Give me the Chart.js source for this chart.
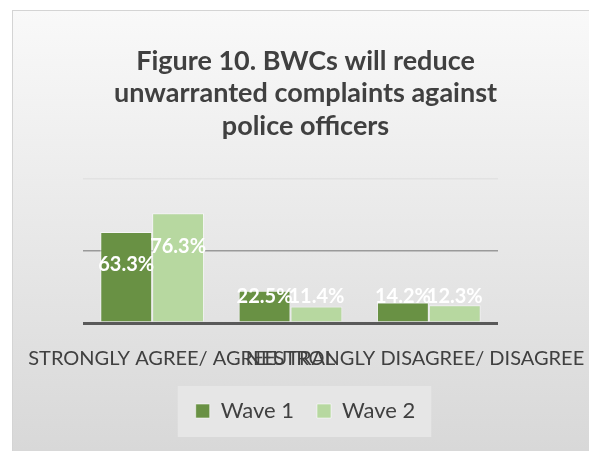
<!DOCTYPE html>
<html>
<head>
<meta charset="utf-8">
<script src="https://cdn.jsdelivr.net/npm/chart.js@4.4.1/dist/chart.umd.min.js"></script>
<style>
  html, body { margin: 0; padding: 0; background: #ffffff; }
  canvas { display: block; }
</style>
</head>
<body>
<canvas id="bwcChart" width="589" height="451"></canvas>
<script>
(function () {

// -------------------------------------------------------------------------------------------------------

var categories = ['STRONGLY AGREE/ AGREE', 'NEUTRAL', 'STRONGLY DISAGREE/ DISAGREE'];
var wave1 = [63.3, 22.5, 14.2];
var wave2 = [76.3, 11.4, 12.3];
var seriesNames = ['Wave 1', 'Wave 2'];
var titleLines = ['Figure 10. BWCs will reduce', 'unwarranted complaints against', 'police officers'];

var DARK_GREEN = '#699144';
var LIGHT_GREEN = '#b7d8a0';
var TEXT_GRAY = '#404040';

// panel background with a soft vertical gradient + the box behind the legend
var panelPlugin = {
    id: 'panel',
    beforeDraw: function (chart) {
        var ctx = chart.ctx;
        ctx.save();
        ctx.fillStyle = '#ffffff';
        ctx.fillRect(0, 0, chart.width, chart.height);
        var g = ctx.createLinearGradient(0, 10, 0, chart.height);
        g.addColorStop(0, '#f9f9f9');
        g.addColorStop(1, '#d8d8d8');
        ctx.fillStyle = g;
        ctx.fillRect(12, 10, chart.width - 12, chart.height - 10);
        ctx.strokeStyle = '#d4d4d4';
        ctx.lineWidth = 1;
        ctx.strokeRect(12.5, 10.5, chart.width, chart.height);

        var boxes = chart.legend && chart.legend.legendHitBoxes;
        if (boxes && boxes.length) {
            var l = Infinity, r = -Infinity;
            boxes.forEach(function (b) { l = Math.min(l, b.left); r = Math.max(r, b.left + b.width); });
            var cy = boxes[0].top + boxes[0].height / 2;
            ctx.fillStyle = 'rgba(232,232,232,0.85)';
            ctx.fillRect(l - 18, cy - 25, (r - l) + 34, 51);
        }
        ctx.restore();
    }
};

// white value labels near the top of each bar, kept above the baseline
var valueLabels = {
    id: 'valueLabels',
    afterDatasetsDraw: function (chart) {
        var ctx = chart.ctx;
        var base = chart.scales.y.getPixelForValue(0);
        ctx.save();
        ctx.font = 'bold 20px Lato';
        ctx.fillStyle = '#ffffff';
        ctx.textAlign = 'center';
        ctx.textBaseline = 'middle';
        chart.data.datasets.forEach(function (ds, i) {
            chart.getDatasetMeta(i).data.forEach(function (bar, j) {
                var y = Math.min(bar.y + 33, base - 26);
                ctx.fillText(ds.data[j].toFixed(1) + '%', bar.x, y);
            });
        });
        ctx.restore();
    }
};

var canvas = document.getElementById('bwcChart');
var ctx = canvas.getContext('2d');

new Chart(ctx, {
    type: 'bar',
    data: {
        labels: categories,
        datasets: [
            { label: seriesNames[0], data: wave1, backgroundColor: DARK_GREEN, borderColor: 'rgba(255,255,255,0.55)', borderWidth: 1 },
            { label: seriesNames[1], data: wave2, backgroundColor: LIGHT_GREEN, borderColor: 'rgba(255,255,255,0.55)', borderWidth: 1 }
        ]
    },
    options: {
        responsive: false,
        animation: false,
        layout: { padding: { left: 22, right: 0, top: 0, bottom: 19 } },
        datasets: { bar: { categoryPercentage: 0.75, barPercentage: 1.0 } },
        scales: {
            x: {
                grid: { display: false },
                border: { display: false },
                ticks: {
                    autoSkip: false,
                    maxRotation: 0,
                    minRotation: 0,
                    padding: 16,
                    color: TEXT_GRAY,
                    font: { family: 'Lato', size: 20 }
                },
                // long labels are allowed to overlap and run past the plot edges
                afterFit: function (scale) {
                    scale.paddingLeft = 0;
                    scale.paddingRight = 91;
                    scale.height = 54;
                }
            },
            y: {
                min: 0,
                max: 100,
                border: { display: false },
                ticks: { display: false, stepSize: 50 },
                grid: {
                    drawTicks: false,
                    color: function (c) {
                        if (c.tick.value === 0) return '#595959';
                        if (c.tick.value === 50) return '#9a9a9a';
                        return '#e2e2e2';
                    },
                    lineWidth: function (c) {
                        return c.tick.value === 0 ? 3 : 1.5;
                    }
                },
                afterFit: function (scale) {
                    scale.width = 61;
                }
            }
        },
        plugins: {
            title: {
                display: true,
                text: titleLines,
                color: TEXT_GRAY,
                font: { family: 'Lato', size: 27, weight: 'bold', lineHeight: 1.2 },
                padding: { top: 45, bottom: 37 }
            },
            legend: {
                position: 'bottom',
                labels: {
                    boxWidth: 14,
                    boxHeight: 14,
                    padding: 23,
                    color: TEXT_GRAY,
                    font: { family: 'Lato', size: 22 }
                }
            },
            tooltip: { enabled: false }
        }
    },
    plugins: [panelPlugin, valueLabels]
});

// -------------------------------------------------------------------------------------------------------

})();
</script>
</body>
</html>
